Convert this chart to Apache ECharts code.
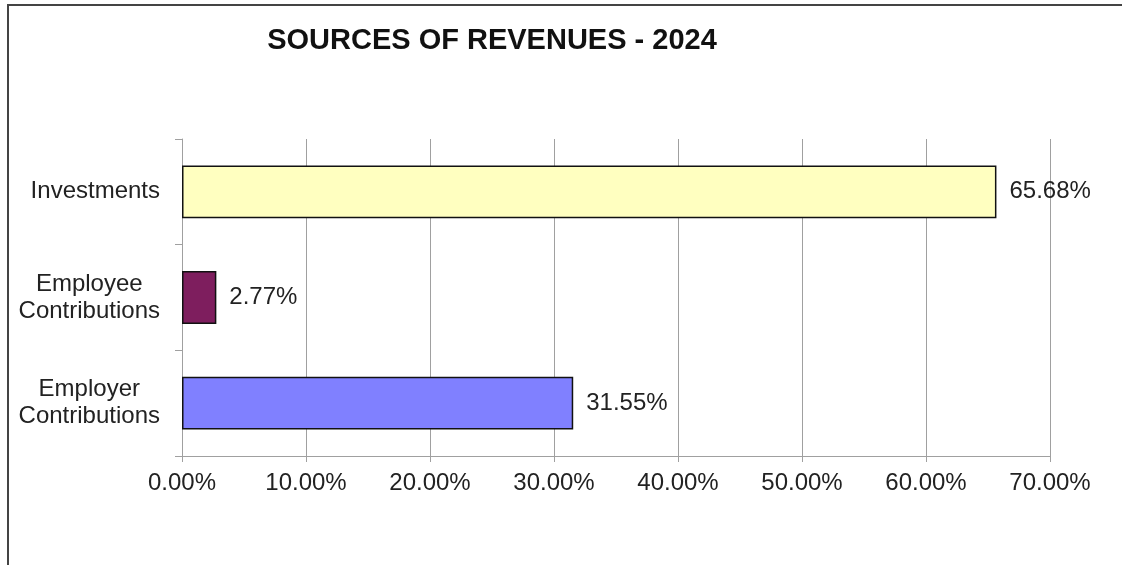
<!DOCTYPE html>
<html>
<head>
<meta charset="utf-8">
<script src="https://cdn.jsdelivr.net/npm/echarts@6/dist/echarts.min.js"></script>
<style>
  html, body { margin: 0; padding: 0; background: #fff; }
  #chart { width: 1122px; height: 565px; }
</style>
</head>
<body>
<div id="chart"></div>
<script>
(function(){
  // bottom to top, as in the picture
  const categories = ["Employer\nContributions", "Employee\nContributions", "Investments"];
  const shares = [31.55, 2.77, 65.68];
  const barColors = ["#8080ff", "#7e1e5e", "#ffffc0"];
  const tickValues = [0, 10, 20, 30, 40, 50, 60, 70];

  const font = "Arial, 'Liberation Sans', sans-serif";
  const chart = echarts.init(document.getElementById("chart"));

  const option = {
    backgroundColor: "#fff",
    animation: false,
    title: {
      text: "SOURCES OF REVENUES - 2024",
      left: 487,
      top: 21,
      textAlign: "center",
      textStyle: { fontFamily: font, fontSize: 29, fontWeight: "bold", color: "#111" }
    },
    graphic: [{
      type: "rect",
      shape: { x: 8, y: 5, width: 1200, height: 700 },
      style: { fill: "none", stroke: "#444", lineWidth: 2 },
      silent: true
    }],
    grid: { left: 182, top: 139, right: 72, bottom: 109 },
    xAxis: {
      type: "value",
      min: tickValues[0],
      max: tickValues[tickValues.length - 1],
      interval: 10,
      axisLine: { show: true, lineStyle: { color: "#a0a0a0", width: 1 } },
      axisTick: { show: true, length: 6, lineStyle: { color: "#a0a0a0" } },
      splitLine: { show: true, lineStyle: { color: "#a0a0a0", width: 1 } },
      axisLabel: {
        margin: 15,
        fontFamily: font, fontSize: 24, color: "#222",
        formatter: v => v.toFixed(2) + "%"
      }
    },
    yAxis: {
      type: "category",
      data: categories,
      axisLine: { show: true, lineStyle: { color: "#a0a0a0", width: 1 } },
      axisTick: { show: true, length: 7, lineStyle: { color: "#a0a0a0" } },
      axisLabel: {
        margin: 22,
        align: "right",
        formatter: v => v.split("\n").map(s => "{c|" + s + "}").join("\n"),
        rich: {
          c: { fontFamily: font, fontSize: 24, color: "#222", align: "center", lineHeight: 27 }
        }
      }
    },
    series: [{
      type: "bar",
      barWidth: "50%",
      data: shares.map((v, i) => ({
        value: v,
        itemStyle: { color: barColors[i], borderColor: "#111", borderWidth: 1.5 }
      })),
      label: {
        show: true,
        position: "right",
        distance: 13,
        fontFamily: font, fontSize: 24, color: "#222",
        formatter: p => p.value.toFixed(2) + "%"
      }
    }]
  };

  chart.setOption(option);
  window.addEventListener("resize", () => chart.resize());
})();
</script>
</body>
</html>
